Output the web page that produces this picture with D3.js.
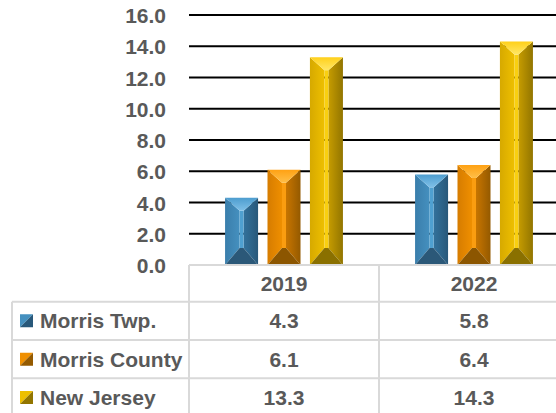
<!DOCTYPE html>
<html>
<head>
<meta charset="utf-8">
<script src="https://cdn.jsdelivr.net/npm/d3@7"></script>
<style>
  html, body { margin: 0; padding: 0; background: #fff; overflow: hidden; }
  svg { display: block; }
  text { font-family: "Liberation Sans", Arial, sans-serif; font-weight: bold; fill: #595959; }
</style>
</head>
<body>
<svg id="chart" width="556" height="413"></svg>
<script>
// Categories, series and tick values
const categories = ["2019", "2022"];
const seriesNames = ["Morris Twp.", "Morris County", "New Jersey"];
const morrisTwp = [4.3, 5.8];
const morrisCounty = [6.1, 6.4];
const newJersey = [13.3, 14.3];
const yTicks = [0, 2, 4, 6, 8, 10, 12, 14, 16];

const seriesValues = [morrisTwp, morrisCounty, newJersey];

// Shading palettes for the bevelled bars (left, left-inner, front, right-inner, right, top, top tip, bottom)
const palettes = [
  { left: "#3a7eab", leftIn: "#4590bf", front: "#4fa0d0", rightIn: "#33729c", right: "#28587a", top: "#4d9dcf", tip: "#7fc0e8", bottom: "#2b5878" },
  { left: "#d67c00", leftIn: "#ef8f00", front: "#fb9d10", rightIn: "#c87500", right: "#945a00", top: "#ffa113", tip: "#ffbf48", bottom: "#8c5600" },
  { left: "#d6a900", leftIn: "#eebf00", front: "#f9cf10", rightIn: "#c69c00", right: "#927500", top: "#ffd01a", tip: "#ffe766", bottom: "#8a7000" }
];

const svg = d3.select("#chart");
const defs = svg.append("defs");

const plotLeft = 189, plotRight = 569;
const y = d3.scaleLinear().domain([0, 16]).range([265, 15]);
const x0 = d3.scaleBand().domain(categories).range([plotLeft, plotRight]).paddingInner(0).paddingOuter(0);
const x1 = d3.scaleBand().domain(seriesNames).range([0, x0.bandwidth()]).paddingInner(0.222).paddingOuter(0.85);

// Horizontal gradients for side faces, vertical one for the top bevel
palettes.forEach((p, i) => {
  const gl = defs.append("linearGradient").attr("id", "gl" + i).attr("x1", 0).attr("x2", 1).attr("y1", 0).attr("y2", 0);
  gl.append("stop").attr("offset", 0).attr("stop-color", p.left);
  gl.append("stop").attr("offset", 1).attr("stop-color", p.leftIn);
  const gr = defs.append("linearGradient").attr("id", "gr" + i).attr("x1", 0).attr("x2", 1).attr("y1", 0).attr("y2", 0);
  gr.append("stop").attr("offset", 0).attr("stop-color", p.rightIn);
  gr.append("stop").attr("offset", 1).attr("stop-color", p.right);
  const gt = defs.append("linearGradient").attr("id", "gt" + i).attr("x1", 0).attr("x2", 0).attr("y1", 0).attr("y2", 1);
  gt.append("stop").attr("offset", 0).attr("stop-color", p.top);
  gt.append("stop").attr("offset", 1).attr("stop-color", p.tip);
});

// Gridlines (black) above zero
svg.append("g")
  .selectAll("line")
  .data(yTicks.filter(t => t > 0))
  .join("line")
  .attr("x1", plotLeft).attr("x2", plotRight)
  .attr("y1", d => y(d)).attr("y2", d => y(d))
  .attr("stroke", "#000").attr("stroke-width", 1.8);

// Y axis labels
const yAxis = d3.axisLeft(y).tickValues(yTicks).tickFormat(d3.format(".1f")).tickSize(0).tickPadding(23);
const yg = svg.append("g").attr("transform", `translate(${plotLeft},0)`).call(yAxis);
yg.select(".domain").remove();
yg.selectAll("text").style("font-size", "21px").attr("fill", "#595959").attr("dy", "0.36em");

// Bevelled bars
const bars = [];
categories.forEach((c, ci) => {
  seriesNames.forEach((s, si) => {
    bars.push({ cat: c, series: s, si, value: seriesValues[si][ci] });
  });
});

const poly = pts => "M" + pts.map(p => p.join(",")).join("L") + "Z";

const barG = svg.append("g")
  .selectAll("g")
  .data(bars)
  .join("g");

barG.each(function (d) {
  const g = d3.select(this);
  const p = palettes[d.si];
  const xa = x0(d.cat) + x1(d.series);
  const w = x1.bandwidth();
  const xb = xa + w;
  const ya = y(d.value), yb = y(0);
  const xc = xa + w / 2;
  const half = 2;
  const xl = xc - half, xr = xc + half;
  const bt = 13, bb = 17;
  g.append("path").attr("d", poly([[xa, ya], [xl, ya + bt], [xl, yb - bb], [xa, yb]])).attr("fill", `url(#gl${d.si})`);
  g.append("path").attr("d", poly([[xb, ya], [xr, ya + bt], [xr, yb - bb], [xb, yb]])).attr("fill", `url(#gr${d.si})`);
  g.append("rect").attr("x", xl).attr("y", ya + bt).attr("width", xr - xl).attr("height", Math.max(0, yb - bb - ya - bt)).attr("fill", p.front);
  g.append("path").attr("d", poly([[xa, ya], [xb, ya], [xr, ya + bt], [xl, ya + bt]])).attr("fill", `url(#gt${d.si})`);
  g.append("path").attr("d", poly([[xa, yb], [xb, yb], [xr, yb - bb], [xl, yb - bb]])).attr("fill", p.bottom);
});

// Data table below the plot
const tableLeft = 12;
const headerTop = 265, headerBottom = 301.7;
const rowY = d3.scaleBand().domain(seriesNames).range([headerBottom, headerBottom + 3 * 38.3]);
const tableBottom = headerBottom + 3 * 38.3;
const border = "#d9d9d9";
const tg = svg.append("g");

// Header row line
tg.append("line").attr("x1", plotLeft).attr("x2", plotRight).attr("y1", headerTop).attr("y2", headerTop).attr("stroke", border).attr("stroke-width", 2);
// Horizontal row lines
tg.selectAll("line.row")
  .data(seriesNames)
  .join("line").attr("class", "row")
  .attr("x1", tableLeft).attr("x2", plotRight)
  .attr("y1", d => rowY(d)).attr("y2", d => rowY(d))
  .attr("stroke", border).attr("stroke-width", 2);
tg.append("line").attr("x1", tableLeft).attr("x2", plotRight).attr("y1", tableBottom).attr("y2", tableBottom).attr("stroke", border).attr("stroke-width", 2);
// Vertical lines
tg.append("line").attr("x1", tableLeft).attr("x2", tableLeft).attr("y1", headerBottom).attr("y2", tableBottom).attr("stroke", border).attr("stroke-width", 2);
tg.selectAll("line.col")
  .data(categories)
  .join("line").attr("class", "col")
  .attr("x1", d => x0(d)).attr("x2", d => x0(d))
  .attr("y1", headerTop).attr("y2", tableBottom)
  .attr("stroke", border).attr("stroke-width", 2);
tg.append("line").attr("x1", plotRight).attr("x2", plotRight).attr("y1", headerTop).attr("y2", tableBottom).attr("stroke", border).attr("stroke-width", 2);

// Header labels
tg.selectAll("text.cat")
  .data(categories)
  .join("text").attr("class", "cat")
  .attr("x", d => x0(d) + x0.bandwidth() / 2)
  .attr("y", (headerTop + headerBottom) / 2)
  .attr("dy", "0.36em")
  .attr("text-anchor", "middle")
  .style("font-size", "21px")
  .text(d => d);

// Row labels with legend keys
const rowG = tg.selectAll("g.rowg")
  .data(seriesNames)
  .join("g").attr("class", "rowg")
  .attr("transform", d => `translate(0,${rowY(d) + rowY.bandwidth() / 2})`);

rowG.each(function (s, si) {
  const g = d3.select(this);
  const p = palettes[si];
  const k = 13, kx = 20, ky = -6.5;
  g.append("path").attr("d", poly([[kx, ky], [kx + k, ky], [kx, ky + k]])).attr("fill", p.leftIn);
  g.append("path").attr("d", poly([[kx + k, ky], [kx + k, ky + k], [kx, ky + k]])).attr("fill", p.right);
  g.append("text").attr("x", 40).attr("dy", "0.36em").style("font-size", "21px").text(s);
  g.selectAll("text.val")
    .data(categories.map((c, ci) => ({ c, v: seriesValues[si][ci] })))
    .join("text").attr("class", "val")
    .attr("x", d => x0(d.c) + x0.bandwidth() / 2)
    .attr("dy", "0.36em")
    .attr("text-anchor", "middle")
    .style("font-size", "21px")
    .text(d => d3.format(".1f")(d.v));
});
</script>
</body>
</html>
